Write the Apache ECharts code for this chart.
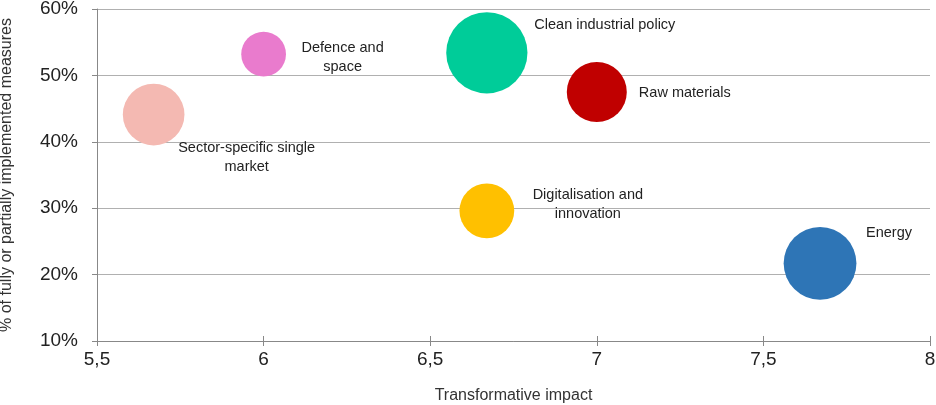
<!DOCTYPE html>
<html>
<head>
<meta charset="utf-8">
<script src="https://cdn.jsdelivr.net/npm/echarts@6/dist/echarts.min.js"></script>
<style>
  html, body { margin: 0; padding: 0; background: #fff; }
  #chart { width: 936px; height: 405px; }
</style>
</head>
<body>
<div id="chart"></div>
<script>
// policy areas
var areas = ['Sector-specific single\nmarket', 'Defence and\nspace', 'Clean industrial policy',
             'Raw materials', 'Digitalisation and\ninnovation', 'Energy'];
var impact = [5.67, 6.0, 6.67, 7.0, 6.67, 7.67];
var implemented = [44.1, 53.2, 53.4, 47.5, 29.6, 21.7];
var weight = [38, 20, 66, 36, 30, 53];   // bubble area (relative)

var colors = ['#f4b9b2', '#e97bcd', '#00cc99', '#c00000', '#ffc000', '#2e75b6'];
// where each label sits relative to its bubble
var labelOffset = [[93, 43], [79, 3], [118, -28], [88, 1], [101, -6], [69, -30]];

var myChart = echarts.init(document.getElementById('chart'));

var points = areas.map(function (name, i) {
  return {
    name: name,
    value: [impact[i], implemented[i], weight[i]],
    itemStyle: { color: colors[i] },
    label: { offset: labelOffset[i] }
  };
});

var option = {
  animation: false,
  textStyle: { fontFamily: 'Liberation Sans' },
  grid: { left: 97, right: 6, top: 9, bottom: 64, containLabel: false, outerBoundsMode: 'none' },
  xAxis: [{
    type: 'value',
    min: 5.5,
    max: 8,
    interval: 0.5,
    name: 'Transformative impact',
    nameLocation: 'middle',
    nameGap: 47,
    nameTextStyle: { fontSize: 16, color: '#333' },
    axisLine: { lineStyle: { color: '#888' } },
    axisTick: { show: true, length: 5, lineStyle: { color: '#888' } },
    axisLabel: {
      fontSize: 19, color: '#222', margin: 9,
      formatter: function (v) { return String(v).replace('.', ','); }
    },
    splitLine: { show: false }
  }, {
    // inner half of the crossing ticks
    type: 'value',
    position: 'bottom',
    offset: 0,
    min: 5.5,
    max: 8,
    interval: 0.5,
    axisLine: { show: false },
    axisTick: { show: true, inside: true, length: 5, lineStyle: { color: '#888' } },
    axisLabel: { show: false },
    splitLine: { show: false }
  }],
  yAxis: {
    type: 'value',
    min: 10,
    max: 60,
    interval: 10,
    name: '% of fully or partially implemented measures',
    nameLocation: 'middle',
    nameGap: 82,
    nameTextStyle: { fontSize: 16, color: '#333' },
    axisLine: { show: true, lineStyle: { color: '#888' } },
    axisTick: { show: true, length: 5, lineStyle: { color: '#888' } },
    axisLabel: { fontSize: 19, color: '#222', margin: 19, formatter: '{value}%' },
    splitLine: { lineStyle: { color: '#b0b0b0', width: 1.2 } }
  },
  series: [{
    type: 'scatter',
    data: points,
    symbolSize: function (val) { return Math.sqrt(val[2]) * 10; },
    label: {
      show: true,
      position: 'inside',
      formatter: '{b}',
      color: '#222',
      fontSize: 14.5,
      lineHeight: 19,
      align: 'center'
    },
    itemStyle: { opacity: 1 }
  }]
};

myChart.setOption(option);
</script>
</body>
</html>
